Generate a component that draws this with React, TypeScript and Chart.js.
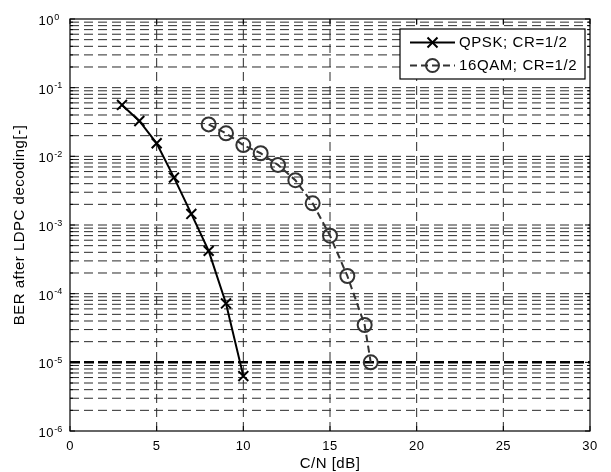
import React, { useEffect, useRef } from "react";
import { Chart, registerables } from "chart.js";

Chart.register(...registerables);

const qpskSnr = [3, 4, 5, 6, 7, 8, 9, 10];
const qpskBer = [0.056, 0.0327, 0.0155, 0.0049, 0.00145, 0.00042, 0.000072, 0.0000063];
const qamSnr = [8, 9, 10, 11, 12, 13, 14, 15, 16, 17, 17.35];
const qamBer = [0.0292, 0.0216, 0.0146, 0.0111, 0.0075, 0.0045, 0.00207, 0.0007, 0.000181, 0.000035, 0.00001];
const thresholdX = [0, 30];
const thresholdY = [1e-5, 1e-5];
const xTicks = [0, 5, 10, 15, 20, 25, 30];
const yExponents = [0, -1, -2, -3, -4, -5, -6];
const seriesNames = ["QPSK; CR=1/2", "16QAM; CR=1/2"];
const xTitle = "C/N [dB]";
const yTitle = "BER after LDPC decoding[-]";

const FONT = '"Liberation Sans", Arial, sans-serif';

function pts(xs: number[], ys: number[]) {
  return xs.map((x, i) => ({ x, y: ys[i] }));
}

function setSpacing(ctx: any, v: string) {
  if ("letterSpacing" in ctx) ctx.letterSpacing = v;
}

const matlabPlugin = {
  id: "matlabDecor",
  beforeDraw(chart: any) {
    const ctx = chart.ctx;
    ctx.save();
    ctx.fillStyle = "#ffffff";
    ctx.fillRect(0, 0, chart.width, chart.height);
    ctx.restore();
  },
  beforeDatasetsDraw(chart: any) {
    const ctx = chart.ctx;
    const a = chart.chartArea;
    const xs = chart.scales.x;
    const ys = chart.scales.y;
    ctx.save();
    ctx.beginPath();
    ctx.rect(a.left, a.top, a.right - a.left, a.bottom - a.top);
    ctx.clip();
    ctx.lineWidth = 1;
    ctx.strokeStyle = "#2a2a2a";
    ctx.setLineDash([9, 5]);
    ctx.beginPath();
    for (let e = -6; e <= -1; e++) {
      for (let k = 1; k <= 9; k++) {
        if (e === -6 && k === 1) continue;
        const y = ys.getPixelForValue(k * Math.pow(10, e));
        ctx.moveTo(a.left, y);
        ctx.lineTo(a.right, y);
      }
    }
    xTicks.forEach((t) => {
      if (t <= xs.min || t >= xs.max) return;
      const x = xs.getPixelForValue(t);
      ctx.moveTo(x, a.bottom);
      ctx.lineTo(x, a.top);
    });
    ctx.stroke();
    ctx.restore();
  },
  afterDatasetsDraw(chart: any) {
    const ctx = chart.ctx;
    const a = chart.chartArea;
    const xs = chart.scales.x;
    const ys = chart.scales.y;
    ctx.save();
    // ticks (inward)
    ctx.strokeStyle = "#000";
    ctx.lineWidth = 1;
    ctx.setLineDash([]);
    ctx.beginPath();
    const tl = 5;
    xTicks.forEach((t) => {
      const x = xs.getPixelForValue(t);
      ctx.moveTo(x, a.bottom);
      ctx.lineTo(x, a.bottom - tl);
      ctx.moveTo(x, a.top);
      ctx.lineTo(x, a.top + tl);
    });
    for (let e = -6; e <= 0; e++) {
      for (let k = 1; k <= 9; k++) {
        const v = k * Math.pow(10, e);
        if (v > 1) continue;
        const y = ys.getPixelForValue(v);
        const len = k === 1 ? tl : 3;
        ctx.moveTo(a.left, y);
        ctx.lineTo(a.left + len, y);
        ctx.moveTo(a.right, y);
        ctx.lineTo(a.right - len, y);
      }
    }
    ctx.stroke();
    // box
    ctx.lineWidth = 1.2;
    ctx.strokeRect(a.left, a.top, a.right - a.left, a.bottom - a.top);

    // x tick labels
    ctx.fillStyle = "#000";
    ctx.font = "13px " + FONT;
    setSpacing(ctx, "0.4px");
    ctx.textAlign = "center";
    ctx.textBaseline = "alphabetic";
    xTicks.forEach((t) => {
      const x = xs.getPixelForValue(t);
      ctx.fillText(String(t), x, a.bottom + 18.5);
    });
    // x title
    ctx.font = "15px " + FONT;
    setSpacing(ctx, "0.5px");
    ctx.fillText(xTitle, (a.left + a.right) / 2, a.bottom + 37);

    // y tick labels 10^e
    yExponents.forEach((e) => {
      const y = ys.getPixelForValue(Math.pow(10, e));
      ctx.font = "13px " + FONT;
      setSpacing(ctx, "0.4px");
      ctx.textAlign = "left";
      const bx = 38.5;
      ctx.fillText("10", bx, y + 6);
      const w = ctx.measureText("10").width;
      ctx.font = "9px " + FONT;
      setSpacing(ctx, "0px");
      ctx.fillText(String(e), bx + w + 0.5, y + 0.5);
    });

    // y title
    ctx.save();
    ctx.font = "15px " + FONT;
    setSpacing(ctx, "0.5px");
    ctx.textAlign = "center";
    ctx.textBaseline = "middle";
    ctx.translate(20, (a.top + a.bottom) / 2);
    ctx.rotate(-Math.PI / 2);
    ctx.fillText(yTitle, 0, 0);
    ctx.restore();

    // legend
    const lx = 400, ly = 29, lw = 185, lh = 50;
    ctx.fillStyle = "#fff";
    ctx.fillRect(lx, ly, lw, lh);
    ctx.strokeStyle = "#000";
    ctx.lineWidth = 1.2;
    ctx.strokeRect(lx, ly, lw, lh);
    const rows = [42.5, 65.5];
    // row 1
    ctx.lineWidth = 2;
    ctx.strokeStyle = "#000";
    ctx.beginPath();
    ctx.moveTo(410, rows[0]);
    ctx.lineTo(455, rows[0]);
    ctx.stroke();
    ctx.beginPath();
    ctx.moveTo(432.5 - 5, rows[0] - 5);
    ctx.lineTo(432.5 + 5, rows[0] + 5);
    ctx.moveTo(432.5 - 5, rows[0] + 5);
    ctx.lineTo(432.5 + 5, rows[0] - 5);
    ctx.stroke();
    // row 2
    ctx.strokeStyle = "#333";
    ctx.setLineDash([7, 4]);
    ctx.beginPath();
    ctx.moveTo(410, rows[1]);
    ctx.lineTo(455, rows[1]);
    ctx.stroke();
    ctx.setLineDash([]);
    ctx.beginPath();
    ctx.arc(432.5, rows[1], 6.5, 0, Math.PI * 2);
    ctx.stroke();
    ctx.fillStyle = "#000";
    ctx.font = "15px " + FONT;
    setSpacing(ctx, "0.6px");
    ctx.textAlign = "left";
    ctx.textBaseline = "middle";
    ctx.fillText(seriesNames[0], 459, rows[0] + 0.5);
    ctx.fillText(seriesNames[1], 459, rows[1] + 0.5);
    ctx.restore();
  },
};

export default function App() {
  const ref = useRef<HTMLCanvasElement | null>(null);
  useEffect(() => {
    if (!ref.current) return;
    const chart = new Chart(ref.current, {
      type: "line",
      data: {
        datasets: [
          {
            label: seriesNames[0],
            data: pts(qpskSnr, qpskBer),
            borderColor: "#000",
            borderWidth: 2,
            pointStyle: "crossRot",
            pointRadius: 7,
            pointBorderWidth: 2,
            pointBorderColor: "#000",
            pointBackgroundColor: "rgba(0,0,0,0)",
            tension: 0,
            order: 1,
            clip: false,
          } as any,
          {
            label: seriesNames[1],
            data: pts(qamSnr, qamBer),
            borderColor: "#333",
            borderWidth: 2,
            borderDash: [7, 4],
            pointStyle: "circle",
            pointRadius: 7,
            pointBorderWidth: 2,
            pointBorderColor: "#333",
            pointBackgroundColor: "rgba(0,0,0,0)",
            tension: 0,
            order: 2,
            clip: false,
          } as any,
          {
            label: "threshold",
            data: pts(thresholdX, thresholdY),
            borderColor: "#000",
            borderWidth: 2.5,
            borderDash: [10, 4],
            pointRadius: 0,
            tension: 0,
            order: 3,
          } as any,
        ],
      },
      options: {
        responsive: false,
        animation: false,
        devicePixelRatio: 1,
        layout: { padding: { left: 70, top: 19, right: 21, bottom: 41 } },
        plugins: { legend: { display: false }, tooltip: { enabled: false } },
        scales: {
          x: {
            type: "linear",
            min: 0,
            max: 30,
            ticks: { display: false },
            grid: { display: false },
            border: { display: false },
            afterFit: (s: any) => {
              s.height = 0;
            },
          },
          y: {
            type: "logarithmic",
            min: 1e-6,
            max: 1,
            ticks: { display: false },
            grid: { display: false },
            border: { display: false },
            afterFit: (s: any) => {
              s.width = 0;
            },
          },
        },
      } as any,
      plugins: [matlabPlugin],
    });
    return () => chart.destroy();
  }, []);
  return (
    <div style={{ position: "fixed", left: 0, top: 0, width: 611, height: 472, background: "#fff" }}>
      <canvas ref={ref} width={611} height={472} style={{ display: "block" }} />
    </div>
  );
}
